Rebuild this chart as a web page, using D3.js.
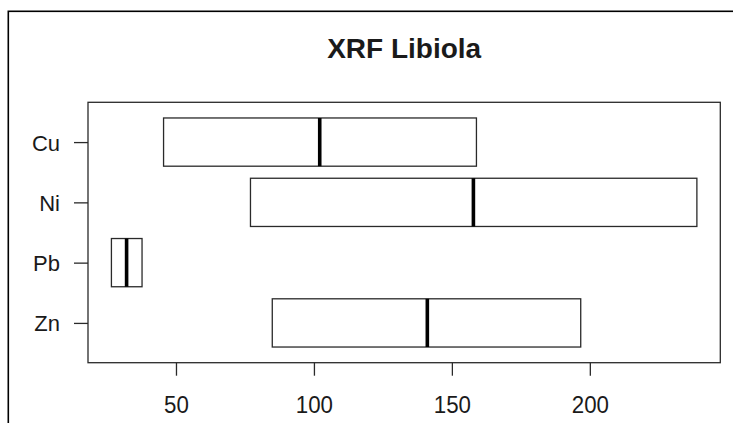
<!DOCTYPE html>
<html>
<head>
<meta charset="utf-8">
<script src="https://cdn.jsdelivr.net/npm/d3@7"></script>
<style>
  html, body { margin: 0; padding: 0; background: #fff; }
  svg { display: block; }
  text { font-family: "Liberation Sans", Arial, sans-serif; fill: #1a1a1a; }
</style>
</head>
<body>
<svg id="chart" width="733" height="423"></svg>
<script>
// ---- data ----
const title = "XRF Libiola";
const categories = ["Cu", "Ni", "Pb", "Zn"];
const lowerQuartile = [45.5, 77.0, 26.6, 84.9];
const medians = [102.1, 157.8, 32.1, 141.1];
const upperQuartile = [158.9, 238.8, 37.7, 196.7];
const xTickValues = [50, 100, 150, 200];

const svg = d3.select("#chart");

// outer frame of the picture (cropped on the right/bottom)
svg.append("rect")
  .attr("x", 8.3).attr("y", 11.3)
  .attr("width", 800).attr("height", 600)
  .attr("fill", "none").attr("stroke", "#000").attr("stroke-width", 1.6);

const plot = { left: 88, right: 720.3, top: 102.3, bottom: 362.7 };

const dataMin = d3.min(lowerQuartile), dataMax = d3.max(upperQuartile);
const span = dataMax - dataMin;
const x = d3.scaleLinear()
  .domain([dataMin - 0.04 * span, dataMax + 0.04 * span])
  .range([plot.left, plot.right]);

const y = d3.scalePoint()
  .domain(categories)
  .range([plot.top, plot.bottom])
  .padding(0.66);
const boxH = 0.8 * y.step();

const rows = categories.map((c, i) => ({
  cat: c, q1: lowerQuartile[i], med: medians[i], q3: upperQuartile[i]
}));

// boxes
const g = svg.append("g");
g.selectAll("rect.box").data(rows).join("rect")
  .attr("class", "box")
  .attr("x", d => x(d.q1))
  .attr("y", d => y(d.cat) - boxH / 2)
  .attr("width", d => x(d.q3) - x(d.q1))
  .attr("height", boxH)
  .attr("fill", "#fff")
  .attr("stroke", "#2a2a2a")
  .attr("stroke-width", 1.3);

g.selectAll("line.med").data(rows).join("line")
  .attr("class", "med")
  .attr("x1", d => x(d.med)).attr("x2", d => x(d.med))
  .attr("y1", d => y(d.cat) - boxH / 2)
  .attr("y2", d => y(d.cat) + boxH / 2)
  .attr("stroke", "#000")
  .attr("stroke-width", 3.6);

// plot frame
svg.append("rect")
  .attr("x", plot.left).attr("y", plot.top)
  .attr("width", plot.right - plot.left)
  .attr("height", plot.bottom - plot.top)
  .attr("fill", "none").attr("stroke", "#2a2a2a").attr("stroke-width", 1.3);

// x axis
const xAxis = svg.append("g")
  .attr("transform", `translate(0,${plot.bottom})`)
  .call(d3.axisBottom(x).tickValues(xTickValues).tickSize(13).tickPadding(20).tickFormat(d3.format("d")));
xAxis.select(".domain").remove();
xAxis.selectAll(".tick line").attr("stroke", "#2a2a2a").attr("stroke-width", 1.3);
xAxis.selectAll(".tick text")
  .attr("font-size", 24.5).attr("fill", "#1a1a1a")
  .attr("transform", "scale(0.91,1)")
  .attr("font-family", "'Liberation Sans', Arial, sans-serif");

// y axis
const yAxis = svg.append("g")
  .attr("transform", `translate(${plot.left},0)`)
  .call(d3.axisLeft(y).tickSize(14).tickPadding(14));
yAxis.select(".domain").remove();
yAxis.selectAll(".tick line").attr("stroke", "#2a2a2a").attr("stroke-width", 1.3);
yAxis.selectAll(".tick text")
  .attr("font-size", 22).attr("fill", "#1a1a1a")
  .attr("font-family", "'Liberation Sans', Arial, sans-serif")
  .attr("dy", "0.36em");

// title
svg.append("text")
  .attr("x", (plot.left + plot.right) / 2)
  .attr("y", 58)
  .attr("text-anchor", "middle")
  .attr("font-size", 28)
  .attr("font-weight", "bold")
  .text(title);
</script>
</body>
</html>
